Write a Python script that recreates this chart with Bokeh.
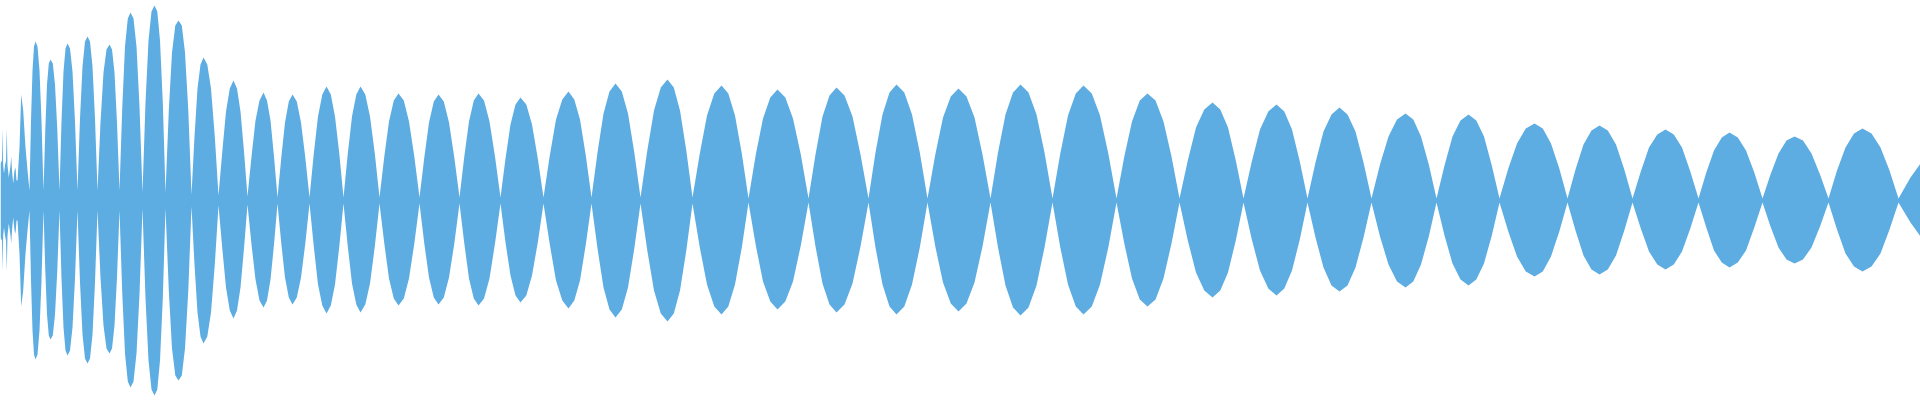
from bokeh.plotting import figure
from bokeh.models import Range1d
from bokeh.embed import file_html
from bokeh.resources import INLINE

# Waveform envelope:
# x in px, amplitude above (top) and below (bot) the centre line in px.
env_x = [
    0, 1.5, 2, 2.7, 3.5, 4.5, 5.5, 6.3, 7, 8.3, 10, 10.7, 11.5, 12.7, 14, 15, 16,
    17, 19, 20.7, 22.7, 25, 27.3,
    29, 30.5, 32, 33.5, 35, 37, 39, 41,
    43, 44.8, 46.5, 48.3, 50, 52.3, 54.5, 56.8,
    59, 61, 63, 65, 67, 69.5, 72, 74.5,
    77, 79.5, 82, 84.5, 87, 89.5, 92, 94.5,
    97, 100, 103, 106, 109, 111.5, 114, 116.5,
    119, 121.8, 124.5, 127.3, 130, 133, 136, 139,
    142, 145, 148, 151, 154, 156.8, 159.5, 162.3,
    165, 168.3, 171.5, 174.8, 178, 181.3, 184.5, 187.8,
    191, 194, 197, 200, 203, 206.8, 210.5, 214.3,
    218, 221.8, 225.5, 229.3, 233, 236.5, 240, 243.5,
    247, 251, 255, 259, 263, 266.5, 270, 273.5,
    277, 280.8, 284.5, 288.3, 292, 296.3, 300.5, 304.8,
    309, 313.3, 317.5, 321.8, 326, 330.3, 334.5, 338.8,
    343, 347.3, 351.5, 355.8, 360, 364.8, 369.5, 374.3,
    379, 383.8, 388.5, 393.3, 398, 403.3, 408.5, 413.8,
    419, 423.8, 428.5, 433.3, 438, 443.3, 448.5, 453.8,
    459, 463.8, 468.5, 473.3, 478, 483.5, 489, 494.5,
    500, 505, 510, 515, 520, 525.8, 531.5, 537.3,
    543, 549.3, 555.5, 561.8, 568, 573.8, 579.5, 585.3,
    591, 597, 603, 609, 615, 621.3, 627.5, 633.8,
    640, 646.8, 653.5, 660.3, 667, 673.3, 679.5, 685.8,
    692, 699.3, 706.5, 713.8, 721, 727.8, 734.5, 741.3,
    748, 755.3, 762.5, 769.8, 777, 784.8, 792.5, 800.3,
    808, 815, 822, 829, 836, 844, 852, 860,
    868, 875, 882, 889, 896, 903.8, 911.5, 919.3,
    927, 934.8, 942.5, 950.3, 958, 966, 974, 982,
    990, 997.5, 1005, 1012.5, 1020, 1028, 1036, 1044,
    1052, 1059.8, 1067.5, 1075.3, 1083, 1091.3, 1099.5, 1107.8,
    1116, 1123.8, 1131.5, 1139.3, 1147, 1155, 1163, 1171,
    1179, 1187.3, 1195.5, 1203.8, 1212, 1219.8, 1227.5, 1235.3,
    1243, 1251.3, 1259.5, 1267.8, 1276, 1283.8, 1291.5, 1299.3,
    1307, 1315, 1323, 1331, 1339, 1347, 1355, 1363,
    1371, 1379.5, 1388, 1396.5, 1405, 1412.8, 1420.5, 1428.3,
    1436, 1444, 1452, 1460, 1468, 1475.8, 1483.5, 1491.3,
    1499, 1507.8, 1516.5, 1525.3, 1534, 1542.3, 1550.5, 1558.8,
    1567, 1575, 1583, 1591, 1599, 1607.3, 1615.5, 1623.8,
    1632, 1640.3, 1648.5, 1656.8, 1665, 1673.3, 1681.5, 1689.8,
    1698, 1705.8, 1713.5, 1721.3, 1729, 1737.3, 1745.5, 1753.8,
    1762, 1770, 1778, 1786, 1794, 1802.5, 1811, 1819.5,
    1828, 1836.5, 1845, 1853.5, 1862, 1871, 1880, 1889,
    1898, 1910, 1920,
]

env_top = [
    37, 40, 72, 35, 27, 35, 40, 72, 35, 23, 35, 44, 30, 17, 30, 33, 20,
    20, 53, 106, 90, 53, 27,
    10, 80, 130, 154, 159, 154, 130, 80,
    10, 71, 116, 137, 141, 137, 116, 71,
    10, 79, 129, 152, 157, 152, 129, 79,
    10, 82, 134, 159, 164, 159, 134, 82,
    10, 78, 128, 151, 156, 151, 128, 78,
    10, 94, 154, 182, 188, 182, 154, 94,
    8, 98, 160, 189, 195, 189, 160, 98,
    8, 90, 148, 175, 180, 175, 148, 90,
    6, 64, 112, 136, 143, 136, 112, 64,
    5, 49, 89, 112, 120, 112, 89, 49,
    4, 44, 80, 100, 108, 100, 80, 44,
    3, 43, 78, 99, 106, 99, 78, 43,
    3, 47, 84, 106, 114, 106, 84, 47,
    3, 47, 84, 106, 114, 106, 84, 47,
    3, 44, 79, 100, 107, 100, 79, 44,
    3, 43, 78, 99, 106, 99, 78, 43,
    3, 44, 79, 100, 107, 100, 79, 44,
    3, 42, 76, 96, 103, 96, 76, 42,
    3, 45, 81, 101, 109, 101, 81, 45,
    3, 48, 87, 109, 117, 109, 87, 48,
    3, 50, 90, 113, 121, 113, 90, 50,
    3, 47, 85, 107, 115, 107, 85, 47,
    2, 46, 82, 103, 111, 103, 82, 46,
    2, 46, 84, 105, 113, 105, 84, 46,
    2, 48, 86, 108, 116, 108, 86, 48,
    2, 46, 83, 104, 112, 104, 83, 46,
    2, 48, 86, 108, 116, 108, 86, 48,
    2, 47, 85, 107, 115, 107, 85, 47,
    2, 44, 79, 100, 107, 100, 79, 44,
    2, 40, 73, 91, 98, 91, 73, 40,
    2, 39, 71, 89, 96, 89, 71, 39,
    2, 38, 69, 86, 93, 86, 69, 38,
    2, 36, 64, 81, 87, 81, 64, 36,
    2, 35, 64, 80, 86, 80, 64, 35,
    2, 32, 57, 72, 77, 72, 57, 32,
    2, 31, 56, 70, 75, 70, 56, 31,
    2, 29, 53, 66, 71, 66, 53, 29,
    2, 28, 50, 63, 68, 63, 50, 28,
    2, 26, 47, 60, 64, 60, 47, 26,
    2, 30, 53, 67, 72, 67, 53, 30,
    2, 23, 37,
]

env_bot = [
    37, 40, 70, 35, 27, 35, 40, 71, 35, 23, 35, 43, 30, 17, 30, 33, 20,
    20, 53, 106, 90, 53, 27,
    10, 80, 130, 154, 159, 154, 130, 80,
    10, 70, 114, 135, 139, 135, 114, 70,
    10, 78, 127, 150, 155, 150, 127, 78,
    10, 82, 134, 158, 163, 158, 134, 82,
    10, 77, 125, 148, 153, 148, 125, 77,
    10, 94, 153, 181, 187, 181, 153, 94,
    8, 98, 160, 189, 195, 189, 160, 98,
    8, 90, 148, 175, 180, 175, 148, 90,
    6, 64, 112, 136, 143, 136, 112, 64,
    5, 48, 87, 110, 118, 110, 87, 48,
    4, 44, 79, 100, 107, 100, 79, 44,
    3, 43, 77, 97, 104, 97, 77, 43,
    3, 46, 84, 105, 113, 105, 84, 46,
    3, 46, 83, 104, 112, 104, 83, 46,
    3, 43, 78, 98, 105, 98, 78, 43,
    3, 43, 77, 97, 104, 97, 77, 43,
    3, 43, 78, 98, 105, 98, 78, 43,
    3, 42, 75, 95, 102, 95, 75, 42,
    3, 44, 80, 100, 108, 100, 80, 44,
    3, 48, 87, 109, 117, 109, 87, 48,
    3, 50, 90, 113, 121, 113, 90, 50,
    3, 47, 84, 106, 114, 106, 84, 47,
    2, 45, 81, 101, 109, 101, 81, 45,
    2, 46, 83, 104, 112, 104, 83, 46,
    2, 47, 84, 106, 114, 106, 84, 47,
    2, 46, 82, 103, 111, 103, 82, 46,
    2, 47, 85, 107, 115, 107, 85, 47,
    2, 47, 84, 106, 114, 106, 84, 47,
    2, 43, 78, 99, 106, 99, 78, 43,
    2, 40, 72, 90, 97, 90, 72, 40,
    2, 39, 70, 88, 95, 88, 70, 39,
    2, 37, 67, 85, 91, 85, 67, 37,
    2, 36, 64, 81, 87, 81, 64, 36,
    2, 35, 63, 79, 85, 79, 63, 35,
    2, 31, 56, 71, 76, 71, 56, 31,
    2, 30, 55, 69, 74, 69, 55, 30,
    2, 28, 51, 64, 69, 64, 51, 28,
    2, 27, 50, 62, 67, 62, 50, 27,
    2, 26, 47, 59, 63, 59, 47, 26,
    2, 29, 53, 66, 71, 66, 53, 29,
    2, 22, 36,
]

WAVE_COLOR = "#5DADE2"

p = figure(
    width=1920, height=400,
    x_range=Range1d(0, 1920), y_range=Range1d(-200, 200),
    output_backend="svg", toolbar_location=None,
    min_border=0,
)
p.axis.visible = False
p.xgrid.visible = False
p.ygrid.visible = False
p.outline_line_color = None
p.background_fill_color = "white"
p.border_fill_color = "white"

lower = [-v for v in env_bot]
p.varea(x=env_x, y1=lower, y2=env_top, fill_color=WAVE_COLOR, fill_alpha=1.0)

open("out.html", "w").write(file_html(p, INLINE))
